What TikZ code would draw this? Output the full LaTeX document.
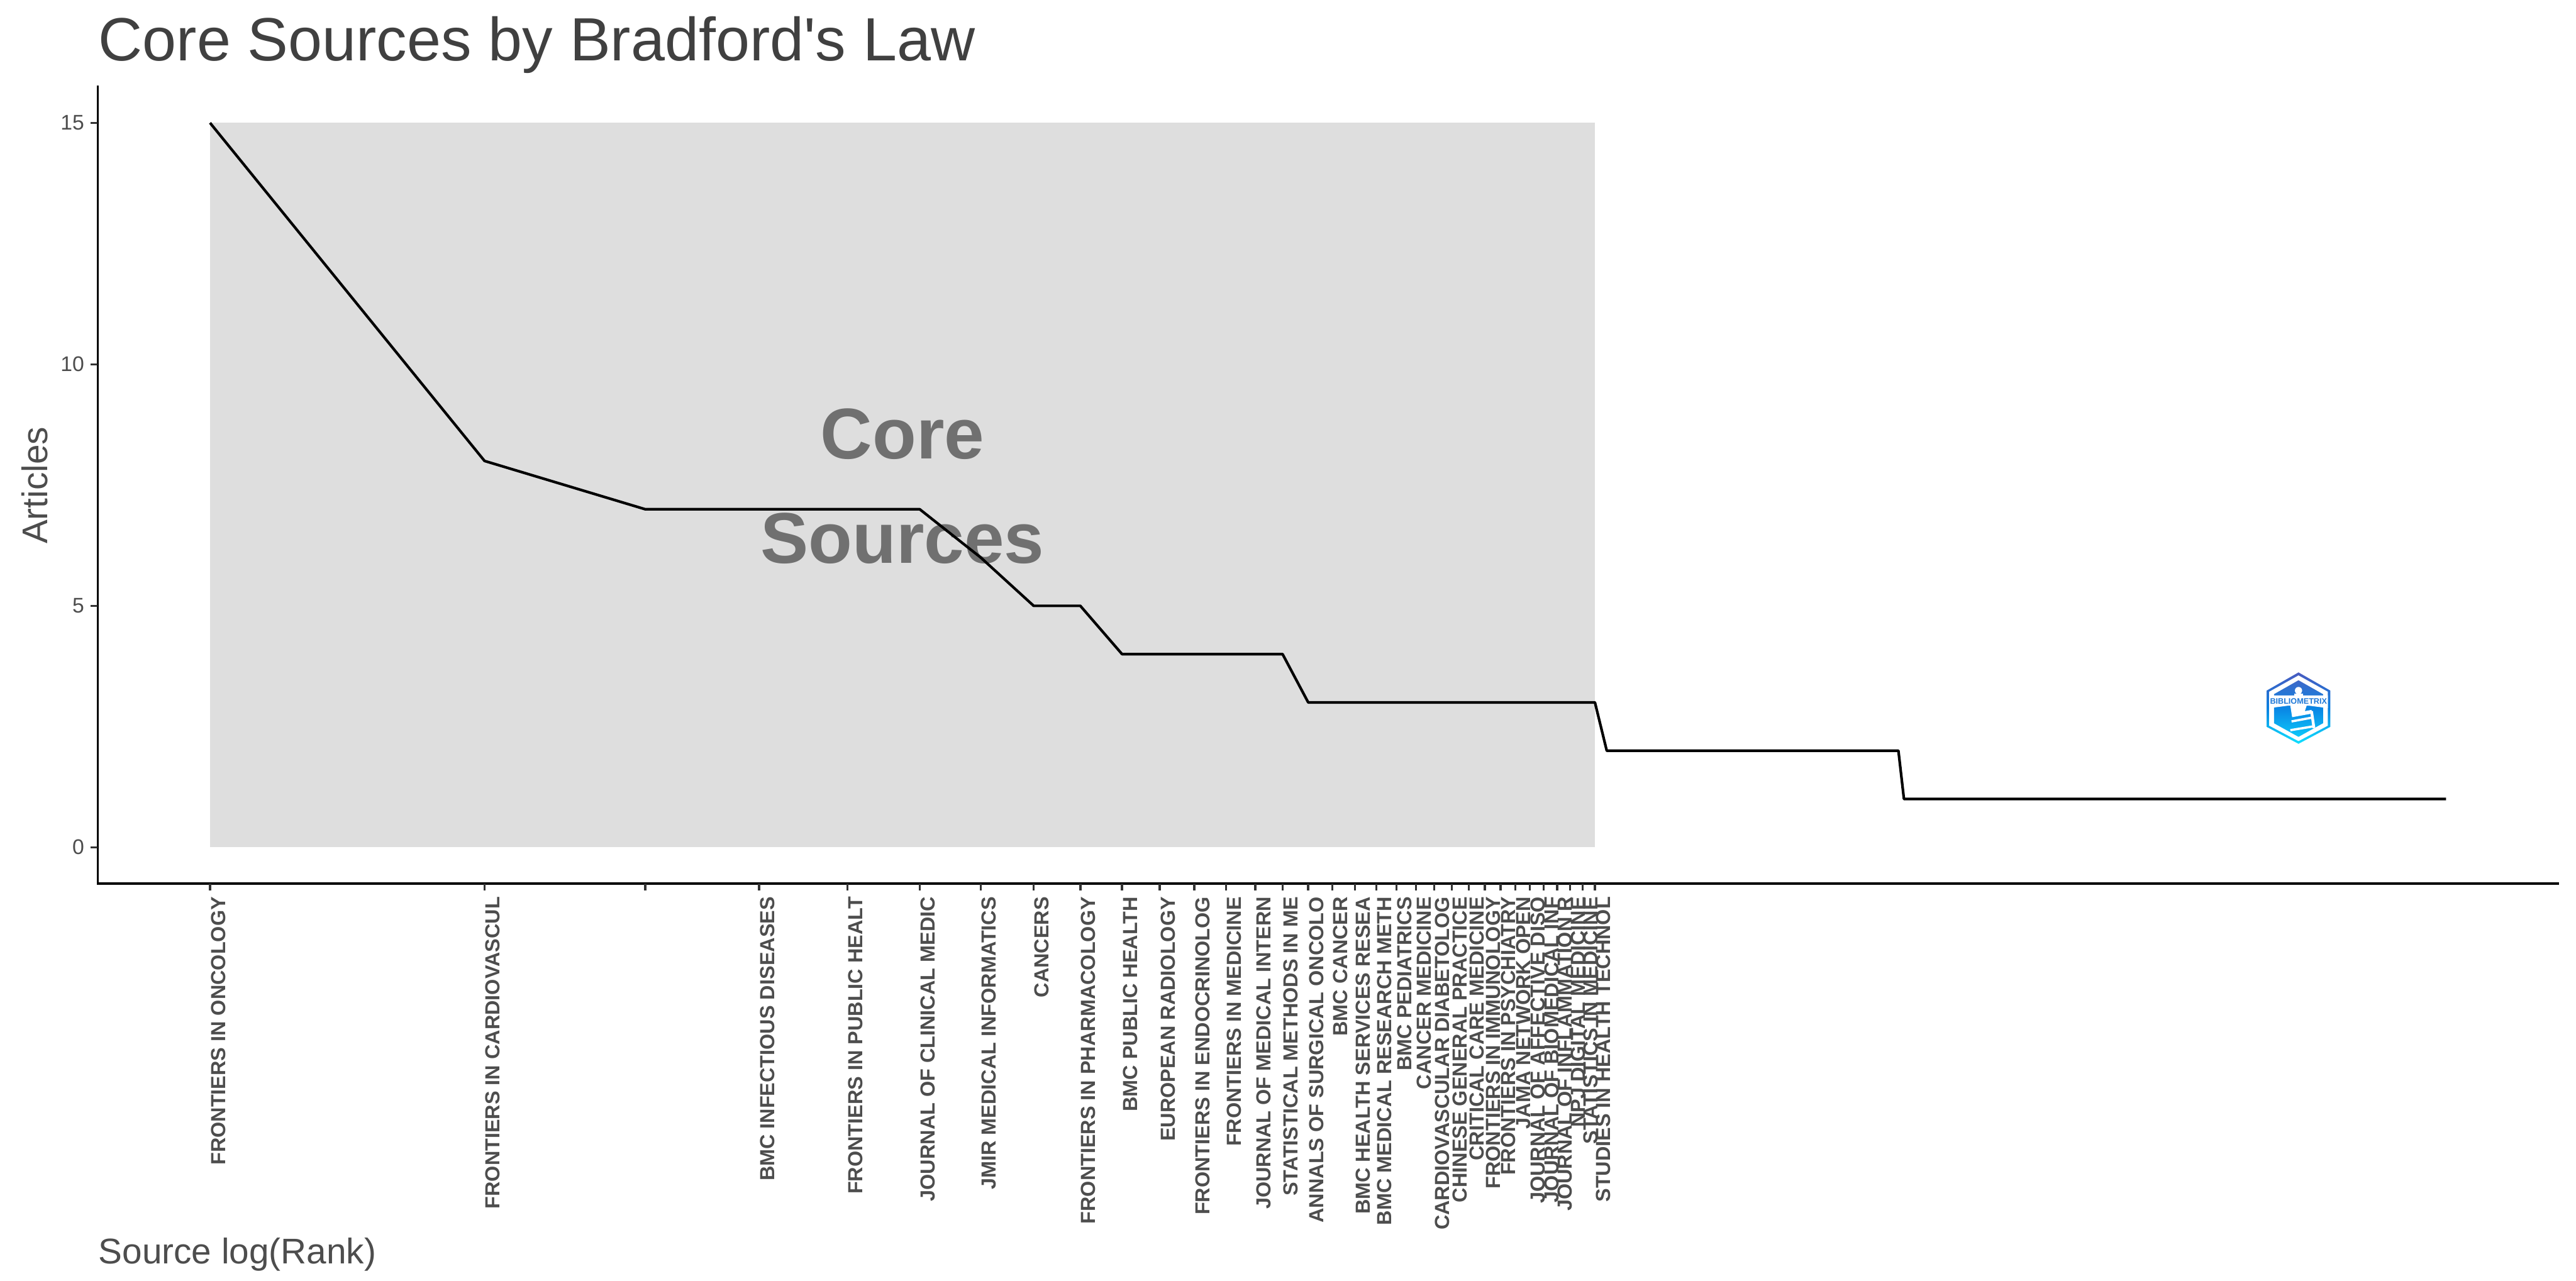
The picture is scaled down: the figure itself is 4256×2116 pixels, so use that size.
\documentclass[tikz,border=0pt]{standalone}
\usepackage{fontspec}
\setmainfont{Liberation Sans}
\newfontfamily\plainsans{Liberation Sans}
\definecolor{coregrey}{HTML}{DEDEDE}
\definecolor{bigtext}{HTML}{707070}
\definecolor{titlecol}{HTML}{404040}
\definecolor{labcol}{HTML}{4D4D4D}
\definecolor{tickcol}{HTML}{333333}
\definecolor{logotext}{HTML}{1E78D8}
\definecolor{hextop}{HTML}{4A5CC0}
\definecolor{hexmid}{HTML}{0A80E0}
\definecolor{hexbot}{HTML}{12E0FF}
\definecolor{intop}{HTML}{3F68C8}
\definecolor{inmid}{HTML}{0A86E4}
\definecolor{inbot}{HTML}{0CC8FA}
\newcommand{\rankx}[1]{{347+654.4*ln(#1)}}
\newcommand{\arty}[1]{{1400-79.8*#1}}
\tikzset{
  x=0.24pt,y=-0.24pt,
  axisline/.style={line width=0.96pt,black,line cap=rect},
  curveline/.style={line width=1.05pt,black,line join=round},
  ticklines/.style={line width=0.9pt,tickcol},
  titletext/.style={anchor=base west,inner sep=0,text=titlecol,font=\plainsans\fontsize{24.2}{29}\selectfont},
  axistitle/.style={inner sep=0,text=labcol,font=\fontsize{14.15}{17}\selectfont},
  ylab/.style={anchor=east,inner sep=0,text=labcol,font=\fontsize{8.4}{10}\selectfont},
  xlab/.style={anchor=base east,rotate=90,inner sep=0,text=labcol,font=\fontsize{8.08}{10}\selectfont\bfseries},
  bigword/.style={anchor=base,inner sep=0,text=bigtext,font=\fontsize{28.5}{33}\selectfont\bfseries},
  logoword/.style={inner sep=0,text=logotext,font=\fontsize{3.15}{4}\selectfont\bfseries},
}
\begin{document}
\begin{tikzpicture}
\useasboundingbox (0,0) rectangle (4256,2116);
% core band
\fill[coregrey] (347,203) rectangle (2635,1400);
\node[bigword] (core) at (1491,758) {Core};
\node[bigword] (sources) at (1491,930) {Sources};
% curve
\foreach \nm/\r/\v in {a/1/15,b/2/8,c/3/7,d/6/7,e/7/6,f/8/5,g/9/5,h/10/4,i/15/4,j/16/3,k/33/3,l/34/2,m/71/2,n/72/1,o/283/1}
  \coordinate (c\nm) at (\rankx{\r},\arty{\v});
\draw[curveline] (ca)--(cb)--(cc)--(cd)--(ce)--(cf)--(cg)--(ch)--(ci)--(cj)--(ck)--(cl)--(cm)--(cn)--(co);
% axes
\coordinate (ytop) at (161.5,143);
\coordinate (origin) at (161.5,1460);
\coordinate (xend) at (4226,1460);
\draw[axisline] (ytop)--(origin)--(xend);
% y ticks and labels
\foreach \v in {0,5,10,15}{
  \draw[ticklines] (150,\arty{\v})--(161,\arty{\v});
  \node[ylab] (y\v) at (140,\arty{\v}) {\v};
}
% x ticks
\foreach \r in {1,...,33}
  \draw[ticklines] (\rankx{\r},1460)--(\rankx{\r},1471);
% x labels
\foreach \r/\t in {1/FRONTIERS IN ONCOLOGY,2/FRONTIERS IN CARDIOVASCUL,4/BMC INFECTIOUS DISEASES,5/FRONTIERS IN PUBLIC HEALT,6/JOURNAL OF CLINICAL MEDIC,7/JMIR MEDICAL INFORMATICS,8/CANCERS,9/FRONTIERS IN PHARMACOLOGY,10/BMC PUBLIC HEALTH,11/EUROPEAN RADIOLOGY,12/FRONTIERS IN ENDOCRINOLOG,13/FRONTIERS IN MEDICINE,14/JOURNAL OF MEDICAL INTERN,15/STATISTICAL METHODS IN ME,16/ANNALS OF SURGICAL ONCOLO,17/BMC CANCER,18/BMC HEALTH SERVICES RESEA,19/BMC MEDICAL RESEARCH METH,20/BMC PEDIATRICS,21/CANCER MEDICINE,22/CARDIOVASCULAR DIABETOLOG,23/CHINESE GENERAL PRACTICE,24/CRITICAL CARE MEDICINE,25/FRONTIERS IN IMMUNOLOGY,26/FRONTIERS IN PSYCHIATRY,27/JAMA NETWORK OPEN,28/JOURNAL OF AFFECTIVE DISO,29/JOURNAL OF BIOMEDICAL INF,30/JOURNAL OF INFLAMMATION R,31/NPJ DIGITAL MEDICINE,32/STATISTICS IN MEDICINE,33/STUDIES IN HEALTH TECHNOL}
  \node[xlab] (x\r) at ({347+654.4*ln(\r)+25},1481) {\t};
% titles
\node[titletext] (title) at (162,100) {Core Sources by Bradford's Law};
\node[axistitle,anchor=base west] (xtitle) at (162,2088) {Source log(Rank)};
\node[axistitle,anchor=base,rotate=90] (ytitle) at (78,802) {Articles};
% logo
\shade[top color=hextop,bottom color=hexbot,middle color=hexmid]
  (3797.5,1111)--(3850,1141)--(3850,1201)--(3797.5,1229)--(3745,1201)--(3745,1141)--cycle;
\fill[white] (3797.5,1116)--(3846,1143)--(3846,1199)--(3797.5,1224.5)--(3749,1199)--(3749,1143)--cycle;
\shade[top color=intop,bottom color=inbot,middle color=inmid]
  (3797.5,1124)--(3838,1147)--(3838,1195)--(3797.5,1217.5)--(3757,1195)--(3757,1147)--cycle;
\fill[white] (3749,1149)--(3846,1149)--(3846,1170)--(3815,1166)--(3780,1166)--(3749,1170)--cycle;
\fill[white] (3797.5,1141) circle (6);
\fill[white] (3790,1146) rectangle (3805,1152);
\fill[white] (3784,1166)--(3811,1166)--(3808,1175)--(3819,1173)--(3820,1179)--(3787,1185)--cycle;
\draw[white,line width=0.9pt] (3786,1192)--(3821,1185.5);
\draw[white,line width=0.9pt] (3784,1206.5)--(3823,1200);
\draw[white,line width=1.1pt] (3819,1175)--(3823,1203);
\node[logoword] (logotxt) at (3797.5,1158.5) {BIBLIOMETRIX};
\end{tikzpicture}
\end{document}
